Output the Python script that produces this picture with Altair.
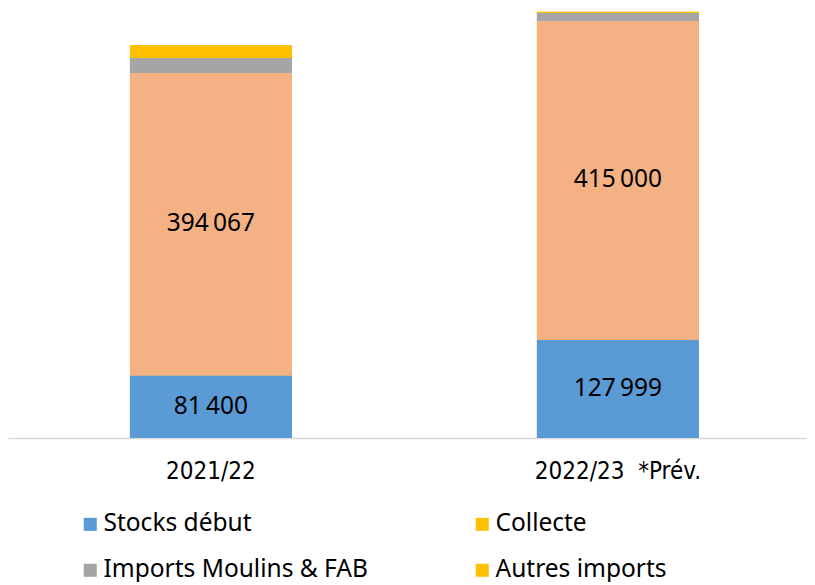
import altair as alt
import pandas as pd

campagnes = ["2021/22", "2022/23\u00a0\u00a0*Prév."]
series = ["Stocks début", "Collecte", "Imports Moulins & FAB", "Autres imports"]
stocks_debut = [81400, 127999]
collecte = [394067, 415000]
imports_moulins = [19500, 10500]
autres_imports = [17000, 1500]

bar_colors = ["#5B9BD5", "#F4B183", "#A5A5A5", "#FFC000"]
legend_colors = {"Stocks début": "#5B9BD5", "Collecte": "#FFC000",
                 "Imports Moulins & FAB": "#A5A5A5", "Autres imports": "#FFC000"}
# legend grid is filled column by column
legend_order = ["Stocks début", "Imports Moulins & FAB", "Collecte", "Autres imports"]
labelled = ["Stocks début", "Collecte"]

rows = []
for i, c in enumerate(campagnes):
    for k, (s, vals) in enumerate(zip(series, [stocks_debut, collecte, imports_moulins, autres_imports])):
        v = vals[i]
        rows.append({
            "campagne": c,
            "serie": s,
            "ordre": k,
            "valeur": v,
            "label": f"{v:,}".replace(",", "\u202f") if s in labelled else "",
        })
df = pd.DataFrame(rows)

FONT = "Noto Sans"

x_enc = alt.X(
    "campagne:N",
    sort=campagnes,
    title=None,
    scale=alt.Scale(paddingInner=0.602, paddingOuter=0.2826, align=0.53),
    axis=alt.Axis(
        labelAngle=0,
        labelFontSize=24,
        labelFont="DejaVu Sans Condensed, Liberation Sans Narrow, Arial Narrow, sans-serif",
        labelColor="#000000",
        labelPadding=21,
        ticks=False,
        domainColor="#D9D9D9",
        domainWidth=1.5,
    ),
)
y_scale = alt.Scale(domain=[0, 560000], nice=False)

base = alt.Chart(df).transform_stack(
    stack="valeur", groupby=["campagne"], as_=["y0", "y1"], sort=[alt.SortField("ordre", "ascending")]
)

legend_layer = base.mark_bar().encode(
    x=x_enc,
    y=alt.Y("y0:Q", scale=y_scale, axis=None),
    y2="y1:Q",
    color=alt.Color(
        "serie:N",
        sort=legend_order,
        scale=alt.Scale(domain=legend_order, range=[legend_colors[s] for s in legend_order]),
        legend=alt.Legend(
            title=None,
            orient="none",
            legendX=70,
            legendY=504,
            columns=2,
            columnPadding=102,
            rowPadding=21,
            symbolType="square",
            symbolSize=170,
            symbolStrokeWidth=0,
            labelFontSize=24.5,
            labelFont=FONT,
            labelColor="#000000",
            labelOffset=1,
            labelLimit=400,
        ),
    ),
)

bars = base.mark_bar().encode(
    x=x_enc,
    y=alt.Y("y0:Q", scale=y_scale, axis=None),
    y2="y1:Q",
    color=alt.Color(
        "serie:N",
        sort=series,
        scale=alt.Scale(domain=series, range=bar_colors),
        legend=None,
    ),
)

labels = base.transform_filter("datum.label != ''").transform_calculate(
    mid="(datum.y0 + datum.y1) / 2"
).mark_text(
    fontSize=24.5, font=FONT, color="#000000", baseline="middle", align="center"
).encode(
    x=x_enc,
    y=alt.Y("mid:Q", scale=y_scale, axis=None),
    text="label:N",
)

chart = alt.layer(legend_layer, bars, labels).resolve_scale(color="independent").properties(
    width=799, height=430, padding=0
).configure_view(stroke=None)

chart.save("out.html", embed_options={"renderer": "svg", "actions": False})
